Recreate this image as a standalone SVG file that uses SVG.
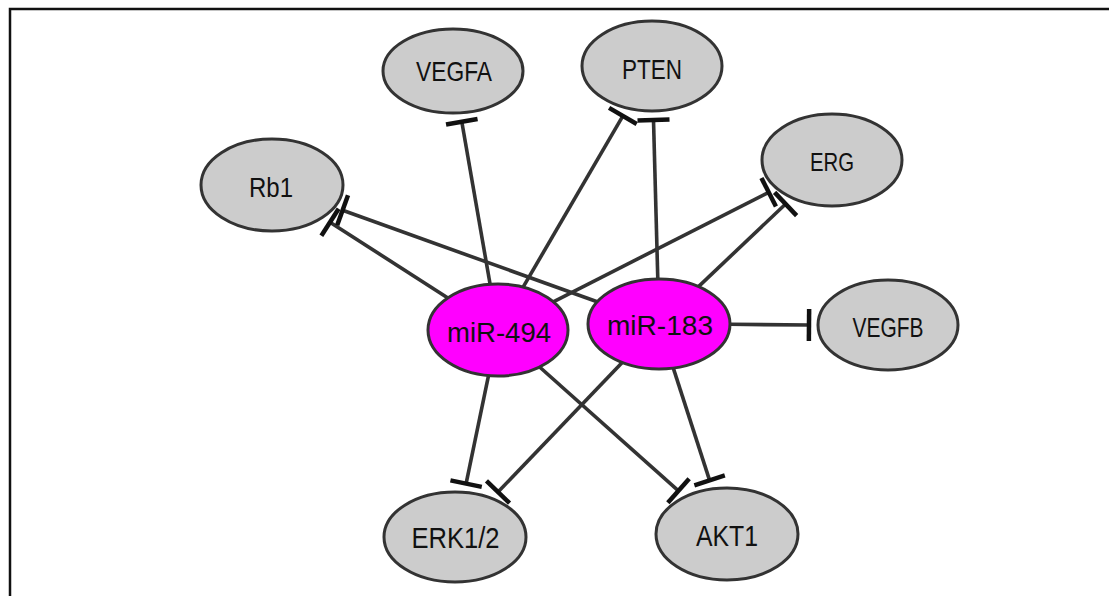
<svg xmlns="http://www.w3.org/2000/svg" width="1109" height="596" viewBox="0 0 1109 596">
  <style>
    .edge { stroke: #333333; stroke-width: 3.6; fill: none; marker-end: url(#tbar); }
    .gene { fill: #cccccc; stroke: #333333; stroke-width: 3; }
    .mir { fill: #ff00ff; stroke: #333333; stroke-width: 3; }
    .lbl { font-family: "Liberation Sans", Arial, sans-serif; fill: #111111; text-anchor: middle; }
  </style>
  <defs>
    <marker id="tbar" markerUnits="userSpaceOnUse" orient="auto" markerWidth="10" markerHeight="36" viewBox="-5 -18 10 36" refX="0" refY="0">
      <line x1="0" y1="-16" x2="0" y2="16" stroke="#111111" stroke-width="4.5"/>
    </marker>
  </defs>
  <rect width="1109" height="596" fill="#ffffff"/>
  <path d="M10,596 V9 H1109" fill="none" stroke="#111111" stroke-width="2.5"/>

  <g id="connectors">
    <line class="edge" x1="490.1" y1="284.3" x2="461.8" y2="121.7"/>
    <line class="edge" x1="523.1" y1="287.1" x2="622.9" y2="115.9"/>
    <line class="edge" x1="447.9" y1="297.9" x2="330.0" y2="222.3"/>
    <line class="edge" x1="553.3" y1="301.8" x2="768.7" y2="192.3"/>
    <line class="edge" x1="488.5" y1="375.6" x2="466.1" y2="483.6"/>
    <line class="edge" x1="539.6" y1="367.0" x2="678.5" y2="490.8"/>
    <line class="edge" x1="597.2" y1="301.8" x2="342.6" y2="210.3"/>
    <line class="edge" x1="657.8" y1="279.0" x2="653.5" y2="120.0"/>
    <line class="edge" x1="698.5" y1="286.6" x2="785.6" y2="204.0"/>
    <line class="edge" x1="730.0" y1="324.3" x2="809.0" y2="325.0"/>
    <line class="edge" x1="622.2" y1="362.5" x2="498.0" y2="492.0"/>
    <line class="edge" x1="673.3" y1="368.1" x2="709.6" y2="480.4"/>
  </g>

  <g id="VEGFA">
    <ellipse class="gene" cx="453" cy="71" rx="70" ry="42"/>
    <text class="lbl" x="454" y="80.5" font-size="28" textLength="76" lengthAdjust="spacingAndGlyphs">VEGFA</text>
  </g>
  <g id="PTEN">
    <ellipse class="gene" cx="652" cy="66" rx="70" ry="45"/>
    <text class="lbl" x="652" y="78.5" font-size="28" textLength="60" lengthAdjust="spacingAndGlyphs">PTEN</text>
  </g>
  <g id="ERG">
    <ellipse class="gene" cx="832" cy="160" rx="70" ry="46"/>
    <text class="lbl" x="832" y="170.5" font-size="26" textLength="44" lengthAdjust="spacingAndGlyphs">ERG</text>
  </g>
  <g id="Rb1">
    <ellipse class="gene" cx="272" cy="185" rx="71" ry="46"/>
    <text class="lbl" x="271" y="196.5" font-size="27" textLength="44" lengthAdjust="spacingAndGlyphs">Rb1</text>
  </g>
  <g id="VEGFB">
    <ellipse class="gene" cx="888" cy="325" rx="70" ry="45"/>
    <text class="lbl" x="888" y="336.5" font-size="28" textLength="71" lengthAdjust="spacingAndGlyphs">VEGFB</text>
  </g>
  <g id="miR-494">
    <ellipse class="mir" cx="498" cy="330" rx="70" ry="46"/>
    <text class="lbl" x="499" y="342" font-size="27" textLength="104" lengthAdjust="spacingAndGlyphs">miR-494</text>
  </g>
  <g id="miR-183">
    <ellipse class="mir" cx="659" cy="324" rx="71" ry="45"/>
    <text class="lbl" x="660" y="335" font-size="27" textLength="106" lengthAdjust="spacingAndGlyphs">miR-183</text>
  </g>
  <g id="ERK1-2">
    <ellipse class="gene" cx="455" cy="537" rx="71" ry="45"/>
    <text class="lbl" x="455.5" y="547.5" font-size="29" textLength="88" lengthAdjust="spacingAndGlyphs">ERK1/2</text>
  </g>
  <g id="AKT1">
    <ellipse class="gene" cx="727" cy="534" rx="71" ry="46"/>
    <text class="lbl" x="727" y="546" font-size="29" textLength="62" lengthAdjust="spacingAndGlyphs">AKT1</text>
  </g>
</svg>
